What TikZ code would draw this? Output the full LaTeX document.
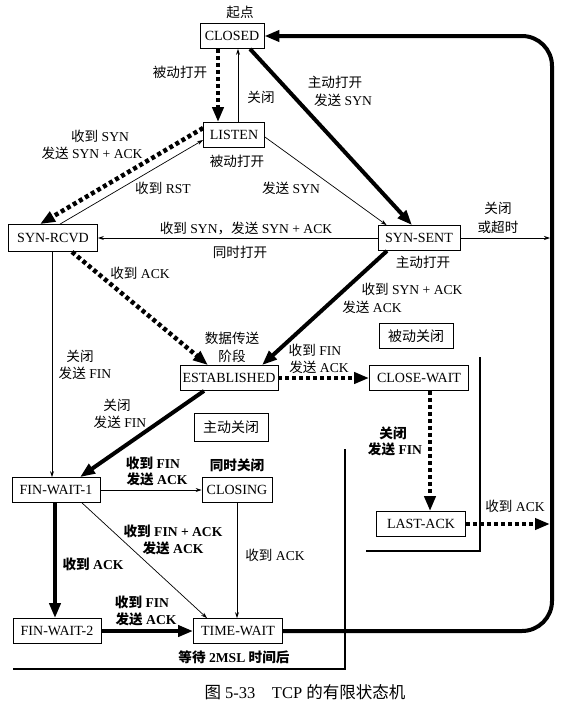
\documentclass[tikz,border=0pt]{standalone}
\usepackage{fontspec}
\setmainfont{Liberation Serif}
\newfontfamily\zhfont{Noto Sans CJK SC}
\usetikzlibrary{arrows.meta}

\begin{document}
\begin{tikzpicture}[x=1pt,y=-1pt,
  state/.style={draw, line width=.8pt, fill=white, minimum height=25pt, inner xsep=2pt, font=\fontsize{14}{16}\selectfont},
  lbl/.style={inner sep=1pt, font=\fontsize{13.6}{16}\selectfont},
  blbl/.style={inner sep=1pt, font=\fontsize{13.6}{16}\selectfont\bfseries},
  thin/.style={line width=.7pt, -{Stealth[length=6pt,width=4pt]}},
  heavy/.style={line width=4pt, -{Triangle[length=15pt,width=11pt]}},
  dots/.style={line width=4.5pt, dash pattern=on 4pt off 3pt, -{Triangle[length=15pt,width=11pt]}}]
\useasboundingbox (0,0) rectangle (565,712);

% draw states
\node[state, minimum width=64pt] (closed) at (232,36) {CLOSED};
\node[state, minimum width=61pt] (listen) at (234,135) {LISTEN};
\node[state, minimum width=89pt, minimum height=27pt] (synrcvd) at (53,238) {SYN-RCVD};
\node[state, minimum width=82pt] (synsent) at (419,238) {SYN-SENT};
\node[state, minimum width=98pt] (established) at (229,378) {ESTABLISHED};
\node[state, minimum width=99pt] (closewait) at (419,378) {CLOSE-WAIT};
\node[state, minimum width=88pt] (finwaitone) at (56,490) {FIN-WAIT-1};
\node[state, minimum width=70pt] (closing) at (237,490) {CLOSING};
\node[state, minimum width=89pt] (lastack) at (421,524) {LAST-ACK};
\node[state, minimum width=88pt] (finwaittwo) at (57,631) {FIN-WAIT-2};
\node[state, minimum width=89pt] (timewait) at (238,631) {TIME-WAIT};
\node[state, minimum width=74pt, minimum height=28pt] (activebox) at (231,427) {\zhfont 主动关闭};
\node[state, minimum width=74pt] (passivebox) at (416,336) {\zhfont 被动关闭};

% draw region borders
\draw[line width=1.5pt] (366,551) -- (480,551) -- (480,357);
\draw[line width=1.5pt] (13,669) -- (345,669) -- (345,449);

% draw the big loop back to CLOSED
\coordinate (loopbr) at (552,631);
\coordinate (looptr) at (552,36);
\draw[heavy, rounded corners=30pt] (timewait.east) -- (loopbr) -- (looptr) -- (closed.east);
\coordinate (loopsyn) at (550,238);
\coordinate (loopack) at (550,524);

% draw transitions
\draw[dots] ([xshift=-14pt]closed.south) -- ([xshift=-14pt]closed.south |- listen.north);
\draw[thin] ([xshift=4pt]listen.north) -- ([xshift=4pt]listen.north |- closed.south);
\draw[heavy] ([xshift=18pt]closed.south) -- ([xshift=-7pt]synsent.north);
\draw[thin] ([yshift=-2pt]listen.east) -- ([xshift=9pt]synsent.north west);
\draw[dots] ([yshift=7pt]listen.west) -- ([xshift=-13pt]synrcvd.north);
\draw[thin] ([xshift=7pt]synrcvd.north) -- ([yshift=-5pt]listen.west);
\draw[thin] (synsent.west) -- (synrcvd.east);
\draw[thin] (synsent.east) -- (loopsyn);
\draw[heavy] ([xshift=-32pt]synsent.south) -- ([xshift=33pt]established.north);
\draw[dots] ([xshift=19pt]synrcvd.south) -- ([xshift=-21pt]established.north);
\draw[thin] ([xshift=-1pt]synrcvd.south) -- ([xshift=-1pt]synrcvd.south |- finwaitone.north);
\draw[heavy] ([xshift=-25pt]established.south) -- ([xshift=24pt]finwaitone.north);
\draw[dots] (established.east) -- (closewait.west);
\draw[dots] ([xshift=11pt]closewait.south) -- ([xshift=11pt]closewait.south |- lastack.north);
\draw[dots] (lastack.east) -- (loopack);
\draw[thin] (finwaitone.east) -- (closing.west);
\draw[thin] ([xshift=26pt]finwaitone.south) -- ([xshift=-31pt]timewait.north);
\draw[thin] (closing.south) -- (closing.south |- timewait.north);
\draw[heavy] ([xshift=-1pt]finwaitone.south) -- ([xshift=-1pt]finwaitone.south |- finwaittwo.north);
\draw[heavy] (finwaittwo.east) -- (timewait.west);

% draw labels
\node[lbl] (startlbl) at (240,12) {\zhfont 起点};
\node[lbl] (passopenA) at (180,72) {\zhfont 被动打开};
\node[lbl] (closeA) at (261,97) {\zhfont 关闭};
\node[lbl] (actopenA) at (335,82) {\zhfont 主动打开};
\node[lbl] (sendsynA) at (343,100) {{\zhfont 发送} SYN};
\node[lbl] (rcvsynA) at (100,136) {{\zhfont 收到} SYN};
\node[lbl] (sendsynackA) at (92,153) {{\zhfont 发送} SYN + ACK};
\node[lbl] (passopenB) at (237,161) {\zhfont 被动打开};
\node[lbl] (rcvrst) at (163,188) {{\zhfont 收到} RST};
\node[lbl] (sendsynB) at (291,188) {{\zhfont 发送} SYN};
\node[lbl] (simsyn) at (246,228) {{\zhfont 收到} SYN{\zhfont ，发送} SYN + ACK};
\node[lbl] (simopen) at (240,252) {\zhfont 同时打开};
\node[lbl] (closeB) at (498,208) {\zhfont 关闭};
\node[lbl] (timeout) at (498,227) {\zhfont 或超时};
\node[lbl] (actopenB) at (423,262) {\zhfont 主动打开};
\node[lbl] (rcvsynack) at (412,289) {{\zhfont 收到} SYN + ACK};
\node[lbl] (sendackA) at (372,307) {{\zhfont 发送} ACK};
\node[lbl] (rcvackA) at (140,273) {{\zhfont 收到} ACK};
\node[lbl] (datalbl) at (232,338) {\zhfont 数据传送};
\node[lbl] (phaselbl) at (232,356) {\zhfont 阶段};
\node[lbl] (rcvfinA) at (315,350) {{\zhfont 收到} FIN};
\node[lbl] (sendackB) at (319,367) {{\zhfont 发送} ACK};
\node[lbl] (closeC) at (80,356) {\zhfont 关闭};
\node[lbl] (sendfinA) at (85,373) {{\zhfont 发送} FIN};
\node[lbl] (closeD) at (117,405) {\zhfont 关闭};
\node[lbl] (sendfinB) at (120,422) {{\zhfont 发送} FIN};
\node[blbl] (closeE) at (393,433) {\zhfont 关闭};
\node[blbl] (sendfinC) at (395,449) {{\zhfont 发送} FIN};
\node[lbl] (rcvackB) at (515,506) {{\zhfont 收到} ACK};
\node[blbl] (rcvfinB) at (153,463) {{\zhfont 收到} FIN};
\node[blbl] (sendackC) at (157,479) {{\zhfont 发送} ACK};
\node[blbl] (simclose) at (237,465) {\zhfont 同时关闭};
\node[blbl] (rcvfinack) at (173,531) {{\zhfont 收到} FIN + ACK};
\node[blbl] (sendackD) at (173,548) {{\zhfont 发送} ACK};
\node[blbl] (rcvackC) at (93,564) {{\zhfont 收到} ACK};
\node[lbl] (rcvackD) at (275,555) {{\zhfont 收到} ACK};
\node[blbl] (rcvfinC) at (142,602) {{\zhfont 收到} FIN};
\node[blbl] (sendackE) at (146,619) {{\zhfont 发送} ACK};
\node[blbl] (waitlbl) at (234,657) {{\zhfont 等待} 2MSL {\zhfont 时间后}};
\node[inner sep=1pt, font=\fontsize{16.5}{19}\selectfont] (caption) at (305,692) {{\zhfont 图} 5-33\quad TCP {\zhfont 的有限状态机}};
\end{tikzpicture}
\end{document}
